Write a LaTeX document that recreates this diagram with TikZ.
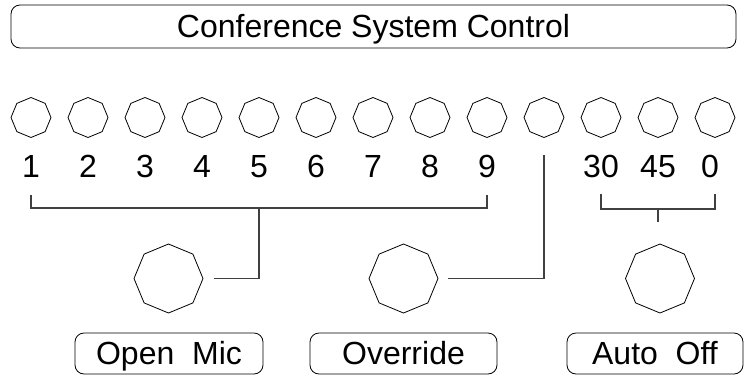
\documentclass[tikz,border=0pt]{standalone}
\usepackage{fontspec}
\setmainfont{Liberation Sans}
\usetikzlibrary{shapes.geometric}
\begin{document}
\begin{tikzpicture}[x=1pt,y=-1pt,
  knob/.style={draw=black, line width=0.8pt, regular polygon, regular polygon sides=8,
    shape border rotate=22.5, minimum size=40pt, inner sep=0pt},
  bigknob/.style={knob, minimum size=69pt},
  lbl/.style={font=\fontsize{32}{32}\selectfont, inner sep=0pt, text height=22.9pt, text depth=0pt},
  panel/.style={lbl, draw=black, line width=0.8pt, rounded corners=9pt},
  wire/.style={draw=black!75, line width=1.1pt}]
\useasboundingbox (0,0) rectangle (745,376);

% title
\node[panel, minimum width=725pt, minimum height=43pt] (title) at (373.5,26.5) {Conference System Control};

% small knobs and labels
\foreach \i in {1,...,13} {
  \node[knob] (s\i) at ({31+57*(\i-1)},117.5) {};
}
\foreach \i/\t in {1/1,2/2,3/3,4/4,5/5,6/6,7/7,8/8,9/9,11/30,12/45} {
  \node[lbl] (l\i) at ({31+57*(\i-1)},166) {\t};
}
\node[lbl] (l13) at (710,166) {0};

% big knobs
\node[bigknob] (k1) at (168.5,278.5) {};
\node[bigknob] (k2) at (403.5,278.5) {};
\node[bigknob] (k3) at (660,278.5) {};

% buttons
\node[panel, minimum width=188pt, minimum height=41pt] (b1) at (169,353.5) {Open\ \ Mic};
\node[panel, minimum width=187pt, minimum height=41pt] (b2) at (403.5,353.5) {Override};
\node[panel, minimum width=176pt, minimum height=41pt] (b3) at (655,353.5) {Auto\ \ Off};

% connectors
\coordinate (gl) at (31,195);
\coordinate (gr) at (487,195);
\coordinate (gj) at (259,208);
\draw[wire] (gl) |- (gj) -| (gr);
\draw[wire, shorten >=11pt] (gj) |- (k1.east);

\draw[wire, shorten <=17pt, shorten >=10pt] (s10.south) |- (k2.east);

\coordinate (al) at (601,194);
\coordinate (ar) at (715,194);
\coordinate (aj) at (658,209);
\coordinate (ae) at (658,222);
\draw[wire] (al) |- (aj) -| (ar);
\draw[wire] (aj) -- (ae);
\end{tikzpicture}
\end{document}
